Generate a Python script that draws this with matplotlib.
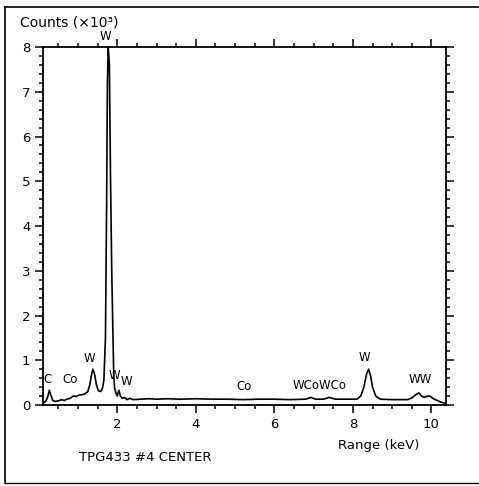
import matplotlib
matplotlib.use("Agg")
import matplotlib.pyplot as plt
from matplotlib.ticker import MultipleLocator
from matplotlib.lines import Line2D

# Spectrum: energy (keV) and counts (x10^3)
energy_kev = [0.12, 0.18, 0.23, 0.27, 0.31, 0.36, 0.42, 0.50, 0.58, 0.65,
              0.72, 0.80, 0.88, 0.95, 1.02, 1.10, 1.18, 1.25, 1.30, 1.35,
              1.38, 1.42, 1.47, 1.52, 1.58, 1.63, 1.66, 1.70, 1.73, 1.75,
              1.77, 1.80, 1.83, 1.86, 1.89, 1.91, 1.93, 1.96, 2.00, 2.04,
              2.08, 2.13, 2.18, 2.25, 2.32, 2.40, 2.60, 2.80, 3.00, 3.30,
              3.60, 4.00, 4.40, 4.80, 5.20, 5.60, 6.00, 6.40, 6.80, 6.93,
              7.05, 7.25, 7.40, 7.55, 7.80, 8.10, 8.20, 8.28, 8.35, 8.40,
              8.45, 8.50, 8.58, 8.70, 9.00, 9.40, 9.50, 9.60, 9.68, 9.75,
              9.82, 9.90, 9.96, 10.05, 10.15, 10.25, 10.36]
counts_k = [0.05, 0.08, 0.18, 0.33, 0.22, 0.10, 0.08, 0.09, 0.12, 0.10,
            0.13, 0.15, 0.20, 0.19, 0.22, 0.23, 0.25, 0.30, 0.45, 0.70,
            0.80, 0.70, 0.45, 0.32, 0.30, 0.40, 0.55, 1.50, 4.50, 7.20,
            8.00, 7.60, 5.00, 3.00, 1.60, 0.70, 0.40, 0.28, 0.20, 0.33,
            0.20, 0.15, 0.17, 0.12, 0.15, 0.12, 0.13, 0.14, 0.13, 0.14,
            0.13, 0.14, 0.13, 0.13, 0.12, 0.13, 0.13, 0.12, 0.13, 0.17,
            0.13, 0.13, 0.17, 0.13, 0.13, 0.13, 0.20, 0.40, 0.70, 0.80,
            0.65, 0.40, 0.20, 0.13, 0.12, 0.12, 0.16, 0.23, 0.27, 0.20,
            0.17, 0.20, 0.20, 0.14, 0.10, 0.06, 0.04]

# Peak labels: text, energy (keV), height (x10^3)
label_text = ["C", "Co", "W", "W", "W", "W", "Co", "WCoWCo", "W", "WW"]
label_x = [0.22, 0.79, 1.30, 1.69, 1.94, 2.24, 5.22, 7.14, 8.29, 9.72]
label_y = [0.58, 0.58, 1.05, 8.24, 0.65, 0.53, 0.42, 0.43, 1.07, 0.56]

x_limits = [0.11, 10.37]
y_limits = [0, 8]
x_ticks = [2, 4, 6, 8, 10]
y_ticks = [0, 1, 2, 3, 4, 5, 6, 7, 8]

W, H = 479, 486
fig = plt.figure(figsize=(W / 100, H / 100), dpi=100)
ax = fig.add_axes([43 / W, 1 - 405 / H, (446 - 43) / W, (405 - 47) / H])

ax.plot(energy_kev, counts_k, color="black", lw=1.2)
ax.set_xlim(x_limits)
ax.set_ylim(y_limits)
ax.set_xticks(x_ticks)
ax.set_yticks(y_ticks)
ax.xaxis.set_minor_locator(MultipleLocator(0.5))
ax.yaxis.set_minor_locator(MultipleLocator(0.2))
ax.tick_params(which="both", direction="out", top=True, right=True,
               labeltop=False, labelright=False, colors="black", width=1.1)
ax.tick_params(which="major", length=6, labelsize=9.5, pad=3)
ax.tick_params(which="minor", length=3)
for s in ax.spines.values():
    s.set_linewidth(1.3)

for t, x, y in zip(label_text, label_x, label_y):
    ax.text(x, y, t, ha="center", va="center", fontsize=8.5, clip_on=False)

fig.text(20 / W, 1 - 23 / H, "Counts (×10³)", fontsize=10, ha="left", va="center")
fig.text(379 / W, 1 - 445 / H, "Range (keV)", fontsize=9.5, ha="center", va="center")
fig.text(145 / W, 1 - 457 / H, "TPG433 #4 CENTER", fontsize=9.5, ha="center", va="center")

# scanned outer frame
fig.add_artist(Line2D([5 / W, 5 / W], [1 - 7 / H, 1 - 483 / H], color="black", lw=1.2))
fig.add_artist(Line2D([5 / W, 1.0], [1 - 7 / H, 1 - 7 / H], color="black", lw=1.2))
fig.add_artist(Line2D([5 / W, 1.0], [1 - 483 / H, 1 - 483 / H], color="black", lw=1.0))

fig.savefig("out.png", dpi=100, facecolor="white")
